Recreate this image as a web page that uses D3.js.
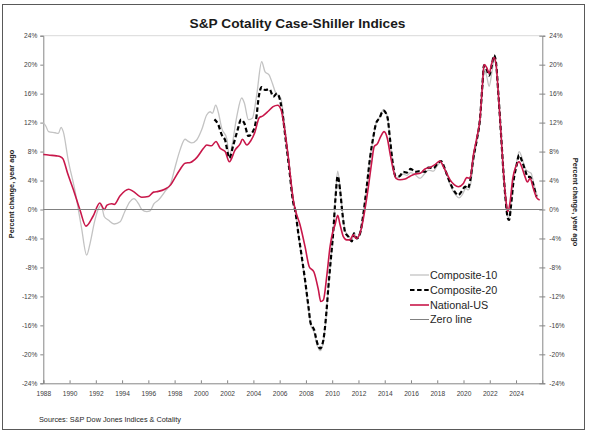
<!DOCTYPE html>
<html>
<head>
<meta charset="utf-8">
<script src="https://cdn.jsdelivr.net/npm/d3@7"></script>
<style>
  html, body { margin: 0; padding: 0; background: #fff; }
  svg { display: block; font-family: Arial, "Liberation Sans", sans-serif; }
</style>
</head>
<body>
<svg id="chart" width="592" height="431"></svg>
<script>
// ---------------- DATA ----------------
const chartTitle = "S&P Cotality Case-Shiller Indices";
const axisTitle = "Percent change, year ago";
const sourceText = "Sources: S&P Dow Jones Indices & Cotality";
const seriesNames = ["Composite-10", "Composite-20", "National-US", "Zero line"];
const yTicks = [-24, -20, -16, -12, -8, -4, 0, 4, 8, 12, 16, 20, 24];
const xTicks = [1988, 1990, 1992, 1994, 1996, 1998, 2000, 2002, 2004, 2006, 2008, 2010,
                2012, 2014, 2016, 2018, 2020, 2022, 2024];

// Composite-10 (decimal year, % change y/y)
const c10Years = [1988.0,1988.2,1988.4,1988.9,1989.15,1989.35,1989.52,1989.9,1990.4,1990.9,1991.3,1991.56,
  1991.9,1992.2,1992.4,1992.65,1992.95,1993.4,1993.85,1994.2,1994.6,1994.9,1995.25,1995.5,1995.87,1996.13,
  1996.43,1996.76,1997.27,1997.72,1998.03,1998.41,1998.79,1999.05,1999.3,1999.68,2000.06,2000.44,2000.7,
  2000.88,2001.13,2001.33,2001.59,2001.97,2002.17,2002.35,2002.73,2003.11,2003.31,2003.62,2003.92,2004.25,
  2004.63,2004.89,2005.19,2005.45,2005.7,2005.9,2006.1,2006.36,2006.66,2007.04,2007.2,2007.42,2007.68,
  2007.93,2008.19,2008.36,2008.62,2008.87,2009.08,2009.33,2009.53,2009.71,2009.89,2010.09,2010.24,2010.42,
  2010.6,2010.78,2010.98,2011.23,2011.49,2011.66,2011.87,2012.12,2012.38,2012.63,2012.88,2013.14,2013.34,
  2013.59,2013.9,2014.2,2014.41,2014.61,2014.86,2015.12,2015.42,2015.68,2015.98,2016.31,2016.69,2017.07,
  2017.33,2017.71,2018.04,2018.29,2018.6,2018.85,2019.1,2019.41,2019.66,2019.92,2020.17,2020.37,2020.55,
  2020.75,2021.01,2021.26,2021.44,2021.59,2021.77,2021.95,2022.15,2022.33,2022.48,2022.66,2022.86,2023.04,
  2023.22,2023.37,2023.47,2023.62,2023.8,2024.05,2024.23,2024.43,2024.69,2024.94,2025.15,2025.32,2025.5,2025.65];
const c10Values = [12.0,11.5,10.75,10.6,10.5,11.35,10.75,6.8,2.7,-2.4,-6.3,-4.7,
  -1.7,0.1,0.6,-1.0,-1.45,-2.0,-1.7,-0.3,1.1,1.5,0.8,0.0,-0.3,-0.2,
  0.8,1.3,2.5,3.7,5.8,8.2,9.7,9.4,9.2,9.6,11.0,13.05,13.5,
  13.3,14.4,13.4,11.2,9.8,7.3,8.6,12.8,15.4,14.7,12.4,12.6,15.8,
  20.4,19.0,18.6,17.4,16.1,15.8,15.3,11.9,7.3,1.3,-0.3,-3.4,-6.7,
  -10.0,-13.6,-15.9,-17.0,-18.8,-19.5,-18.3,-15.0,-10.8,-7.0,-2.8,1.6,5.3,
  3.0,-0.3,-2.9,-3.6,-4.3,-3.2,-3.9,-3.2,-0.5,3.1,7.0,10.0,11.9,
  12.7,13.8,12.9,9.6,6.3,4.4,4.5,4.9,4.7,5.1,4.8,4.3,5.0,
  5.45,5.3,6.15,6.5,5.45,4.1,2.9,2.0,1.6,2.1,2.9,2.7,3.6,
  6.6,9.4,12.4,16.7,19.3,18.35,17.0,18.8,20.65,20.0,15.8,10.3,5.2,
  1.0,-1.0,-1.2,0.8,4.0,6.6,8.0,7.3,5.7,5.2,5.0,3.8,2.5,1.8];

// Composite-20
const c20Years = [2001.03,2001.33,2001.59,2001.84,2002.17,2002.47,2002.8,2003.06,2003.31,2003.62,2003.87,
  2004.18,2004.43,2004.63,2004.89,2005.22,2005.52,2005.78,2005.95,2006.21,2006.46,2006.71,2007.04,2007.17,
  2007.42,2007.68,2007.93,2008.19,2008.36,2008.62,2008.87,2009.08,2009.33,2009.53,2009.71,2009.89,2010.09,
  2010.24,2010.42,2010.6,2010.78,2010.98,2011.23,2011.49,2011.66,2011.87,2012.12,2012.38,2012.63,2012.88,
  2013.14,2013.34,2013.59,2013.9,2014.2,2014.41,2014.61,2014.86,2015.12,2015.42,2015.68,2015.98,2016.31,
  2016.69,2017.07,2017.33,2017.71,2018.04,2018.29,2018.54,2018.8,2019.05,2019.31,2019.61,2019.86,2020.12,
  2020.32,2020.5,2020.75,2021.01,2021.26,2021.44,2021.56,2021.77,2021.95,2022.15,2022.33,2022.48,2022.66,
  2022.86,2023.04,2023.22,2023.37,2023.47,2023.62,2023.8,2024.05,2024.23,2024.43,2024.69,2024.89,2025.07,
  2025.25,2025.45,2025.55];
const c20Values = [12.45,11.7,10.3,9.6,7.1,8.9,11.0,12.4,11.9,10.15,10.5,
  12.1,15.8,16.9,16.5,16.6,15.6,16.0,15.6,13.3,9.6,5.9,0.9,0.0,
  -3.3,-6.5,-9.7,-13.4,-15.7,-16.6,-18.5,-19.2,-18.0,-14.8,-10.7,-7.0,-2.85,
  1.3,4.6,2.7,-0.55,-3.1,-3.75,-4.4,-3.3,-4.0,-3.3,-0.55,3.15,7.1,
  10.1,11.9,12.6,13.65,12.8,9.6,6.4,4.5,4.6,5.2,5.1,5.6,5.2,
  5.3,5.2,5.8,5.7,6.4,6.7,5.8,4.5,3.4,2.5,2.0,2.5,3.15,
  2.9,3.9,7.1,9.6,12.6,17.2,19.9,19.3,18.5,19.9,21.3,20.2,15.8,
  10.3,5.2,1.1,-1.2,-1.45,0.6,3.8,6.15,7.5,6.8,5.45,4.5,4.5,
  3.8,2.5,1.8];

// National-US
const natYears = [1988.0,1988.5,1989.0,1989.3,1989.5,1989.85,1990.3,1990.8,1991.25,1991.8,1992.3,1992.65,
  1992.85,1993.2,1993.4,1993.85,1994.5,1994.85,1995.5,1996.0,1996.4,1996.75,1997.25,1997.7,1998.0,1998.4,
  1998.8,1999.2,1999.7,2000.2,2000.45,2000.8,2001.15,2001.45,2001.85,2002.17,2002.6,2003.0,2003.16,2003.5,
  2003.8,2004.1,2004.45,2004.7,2005.15,2005.5,2005.85,2006.1,2006.35,2006.65,2007.05,2007.2,2007.55,2007.93,
  2008.25,2008.6,2008.95,2009.13,2009.33,2009.58,2009.84,2010.04,2010.22,2010.42,2010.6,2010.85,2011.1,
  2011.36,2011.6,2011.82,2012.0,2012.25,2012.5,2012.76,2013.0,2013.2,2013.45,2013.7,2013.95,2014.2,2014.4,
  2014.65,2014.86,2015.17,2015.55,2015.93,2016.3,2016.7,2017.07,2017.45,2017.83,2018.21,2018.47,2018.72,
  2018.98,2019.31,2019.61,2019.99,2020.25,2020.5,2020.75,2021.0,2021.26,2021.44,2021.56,2021.77,2021.95,
  2022.15,2022.33,2022.48,2022.66,2022.86,2023.04,2023.22,2023.37,2023.55,2023.75,2023.98,2024.23,2024.43,
  2024.69,2024.87,2025.07,2025.32,2025.58,2025.8];
const natValues = [7.6,7.5,7.4,7.3,7.0,5.0,2.7,-0.1,-2.3,-0.9,0.9,0.0,
  0.6,0.8,0.7,1.9,2.8,2.5,1.7,1.8,2.4,2.5,2.8,3.4,4.3,5.5,
  6.4,6.5,7.2,8.45,8.9,8.8,9.4,8.5,8.0,6.6,8.2,9.1,9.7,8.9,
  9.5,10.6,12.7,12.9,13.6,14.2,14.4,13.8,11.4,7.3,1.2,-0.1,-2.1,-5.1,
  -7.9,-8.6,-11.1,-12.7,-12.5,-9.3,-5.1,-3.1,-2.1,-0.8,-2.1,-3.75,-4.2,
  -4.2,-3.5,-4.0,-3.75,-2.4,0.1,3.2,6.4,8.7,9.1,10.1,10.75,9.8,7.8,
  5.5,4.3,4.1,4.2,4.6,4.9,5.0,5.6,5.8,6.2,6.7,5.9,5.0,
  4.1,3.4,3.15,3.6,4.4,4.3,7.5,9.8,12.6,17.2,20.0,19.6,18.8,
  20.2,21.0,20.0,15.8,10.3,5.2,1.5,-0.3,1.1,4.3,5.9,6.6,5.9,
  4.5,3.8,4.3,2.9,1.6,1.3];

// Zero line
const zeroYears = [1988, 2026];
const zeroValues = [0, 0];

// ---------------- LAYOUT ----------------
const W = 592, H = 431;
const plot = { left: 43.3, right: 542.3, top: 35.7, bottom: 383.3 };
const font = 'Arial, "Liberation Sans", sans-serif';

const svg = d3.select("#chart");
svg.append("rect").attr("width", W).attr("height", H).attr("fill", "#fff");
svg.append("rect").attr("x", 2.5).attr("y", 4.5).attr("width", 582).attr("height", 425)
  .attr("fill", "none").attr("stroke", "#595959").attr("stroke-width", 1);

const x = d3.scaleLinear().domain([1988, 2026]).range([plot.left, plot.right]);
const y = d3.scaleLinear().domain([-24, 24]).range([plot.bottom, plot.top]);

// top border of plot area
svg.append("line").attr("x1", plot.left).attr("x2", plot.right)
  .attr("y1", plot.top).attr("y2", plot.top)
  .attr("stroke", "#d9d9d9").attr("stroke-width", 1);

// left axis
const yLeft = svg.append("g").attr("transform", `translate(${plot.left},0)`)
  .call(d3.axisLeft(y).tickValues(yTicks).tickSize(3).tickPadding(3).tickFormat(d => d + "%"));
// right axis
const yRight = svg.append("g").attr("transform", `translate(${plot.right},0)`)
  .call(d3.axisRight(y).tickValues(yTicks).tickSize(3).tickPadding(4).tickFormat(d => d + "%"));
yRight.selectAll(".tick line").attr("x1", -3);
// bottom axis
const xAxis = svg.append("g").attr("transform", `translate(0,${plot.bottom})`)
  .call(d3.axisBottom(x).tickValues(xTicks).tickSize(-3).tickPadding(8).tickFormat(d3.format("d")));

[yLeft, yRight, xAxis].forEach(g => {
  g.select(".domain").attr("stroke", "#868686").attr("stroke-width", 1);
  g.selectAll(".tick line").attr("stroke", "#868686");
  g.selectAll(".tick text").attr("fill", "#404040").attr("font-size", 6.6).attr("font-family", font);
});

// series
const line = d3.line().x(d => x(d[0])).y(d => y(d[1])).curve(d3.curveMonotoneX);
const zip = (a, b) => a.map((v, i) => [v, b[i]]);

const series = [
  { name: seriesNames[0], data: zip(c10Years, c10Values), color: "#c3c3c3", width: 1.3, dash: null },
  { name: seriesNames[1], data: zip(c20Years, c20Values), color: "#000000", width: 2.2, dash: "4.5,2.6" },
  { name: seriesNames[2], data: zip(natYears, natValues), color: "#c8174a", width: 1.6, dash: null },
  { name: seriesNames[3], data: zip(zeroYears, zeroValues), color: "#808080", width: 1, dash: null }
];

series.forEach(s => {
  svg.append("path").datum(s.data).attr("d", line)
    .attr("fill", "none").attr("stroke", s.color).attr("stroke-width", s.width)
    .attr("stroke-dasharray", s.dash).attr("stroke-linejoin", "round");
});

// legend
const legendY = [275, 290, 305, 319.5];
series.forEach((s, i) => {
  svg.append("line").attr("x1", 410).attr("x2", 429).attr("y1", legendY[i]).attr("y2", legendY[i])
    .attr("stroke", s.color).attr("stroke-width", s.width).attr("stroke-dasharray", s.dash);
  svg.append("text").attr("x", 430).attr("y", legendY[i]).attr("dy", "0.36em")
    .attr("font-size", 10.8).attr("font-family", font).attr("fill", "#262626").text(s.name);
});

// title
svg.append("text").attr("x", 297.5).attr("y", 28).attr("text-anchor", "middle")
  .attr("font-size", 13.7).attr("font-weight", "bold").attr("font-family", font)
  .attr("fill", "#1a1a1a").text(chartTitle);

// axis titles
svg.append("text").attr("transform", "translate(14.3,194) rotate(-90)").attr("text-anchor", "middle")
  .attr("font-size", 7.3).attr("font-weight", "bold").attr("font-family", font)
  .attr("fill", "#1a1a1a").text(axisTitle);
svg.append("text").attr("transform", "translate(573.3,202) rotate(90)").attr("text-anchor", "middle")
  .attr("font-size", 7.3).attr("font-weight", "bold").attr("font-family", font)
  .attr("fill", "#1a1a1a").text(axisTitle);

// source
svg.append("text").attr("x", 39).attr("y", 421.5)
  .attr("font-size", 7.3).attr("font-family", font).attr("fill", "#262626").text(sourceText);
</script>
</body>
</html>
